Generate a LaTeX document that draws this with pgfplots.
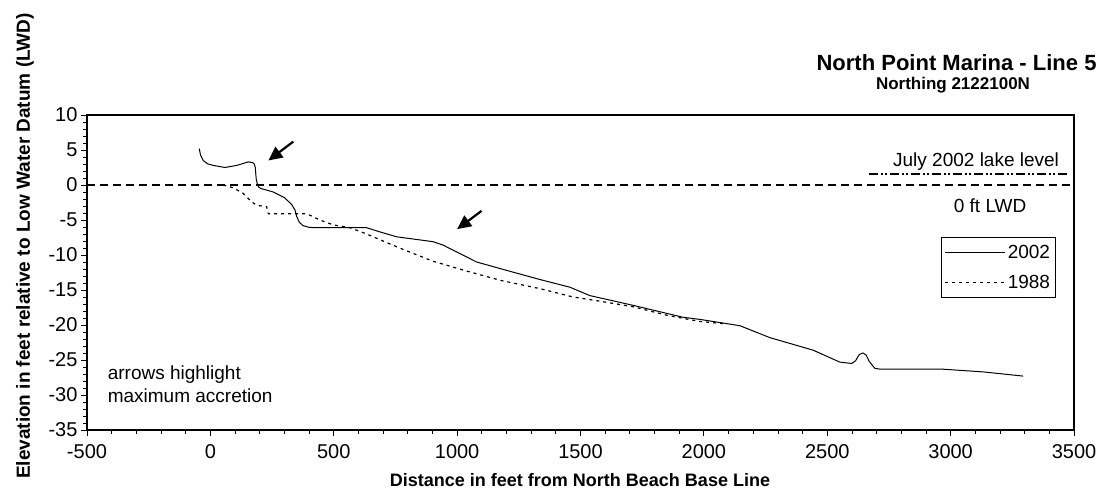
\documentclass[border=0pt]{standalone}
\usepackage{pgfplots}
\pgfplotsset{compat=1.18}
\usepackage{fontspec}
\setmainfont{Liberation Sans}
\usetikzlibrary{arrows.meta}
\begin{document}
\begin{tikzpicture}
\path[use as bounding box] (0bp,0bp) rectangle (1108bp,502bp);
\begin{axis}[
  at={(87bp,72bp)}, anchor=south west,
  scale only axis, width=987bp, height=315bp,
  xmin=-500, xmax=3500, ymin=-35, ymax=10,
  xtick={-500,0,...,3500}, ytick={-35,-30,...,10},
  minor x tick num=4, minor y tick num=4,
  tick align=outside, tick pos=left,
  major tick length=6bp, minor tick length=4bp,
  axis line style={line width=1.2bp},
  every tick/.style={black, line width=0.8bp},
  ticklabel style={font=\fontsize{20bp}{20bp}\selectfont},
  xticklabel style={yshift=-5bp},
  /pgf/number format/assume math mode=true,
  /pgf/number format/1000 sep={},
  legend style={at={(rel axis cs:0.981,0.613)}, anchor=north east, draw=black,
    font=\fontsize{19bp}{19bp}\selectfont, inner xsep=3bp, inner ysep=6bp,
    row sep=11bp, cells={anchor=east}},
  legend image code/.code={\draw[#1] (0bp,0bp) -- (60bp,0bp);},
  clip=false,
]
\addplot[black, line width=1bp] coordinates {
(-45,5.2) (-40,4.3) (-29,3.5) (-10,3.0) (12,2.8) (59,2.5) (107,2.8) (154,3.3)
(171,3.2) (178,3.0) (182,2.5) (184,1.6) (186,0.8) (190,0.2) (196,-0.3)
(205,-0.5) (255,-1.0) (300,-1.8) (330,-2.8) (343,-3.6) (350,-4.5) (360,-5.3)
(375,-5.8) (400,-6.05) (424,-6.1) (566,-6.1) (633,-6.1) (687,-6.7) (755,-7.4)
(903,-8.1) (944,-8.6) (1011,-9.8) (1079,-11.0) (1201,-12.2) (1335,-13.5)
(1457,-14.6) (1538,-15.8) (1714,-17.2) (1916,-18.9) (1984,-19.2) (2146,-20.1)
(2267,-21.8) (2443,-23.6) (2551,-25.3) (2599,-25.5) (2615,-25.1) (2630,-24.2)
(2645,-24.0) (2658,-24.3) (2670,-25.2) (2693,-26.2) (2714,-26.3) (2963,-26.3)
(3132,-26.7) (3294,-27.3)
};
\addlegendentry{2002}
\addplot[black, line width=1.2bp, dash pattern=on 3bp off 4bp] coordinates {
(52,0) (93,-0.4) (133,-1.2) (167,-2.4) (188,-2.9) (228,-3.1) (235,-4.1)
(390,-4.1) (444,-5.0) (498,-5.7) (566,-6.1) (633,-7.0) (726,-8.4) (795,-9.4)
(903,-10.9) (1039,-12.3) (1173,-13.6) (1335,-14.8) (1470,-16.0) (1579,-16.6)
(1714,-17.4) (1849,-18.6) (1984,-19.5) (2078,-19.8)
};
\addlegendentry{1988}
\addplot[black, line width=2bp, dash pattern=on 8bp off 5bp, forget plot] coordinates {(-500,0) (3500,0)};
\addplot[black, line width=2bp, dash pattern=on 9bp off 3bp on 2bp off 2bp on 2bp off 3bp, forget plot] coordinates {(2670,1.6) (3470,1.6)};
\draw[-{Triangle[length=14bp,width=13bp]}, line width=2.2bp] (axis cs:336,6.2) -- (axis cs:235,3.5);
\draw[-{Triangle[length=14bp,width=13bp]}, line width=2.2bp] (axis cs:1099,-3.7) -- (axis cs:1000,-6.3);
\node[anchor=base east, font=\fontsize{19bp}{19bp}\selectfont, inner sep=0pt] at (axis cs:3440,2.7) {July 2002 lake level};
\node[font=\fontsize{19bp}{19bp}\selectfont] at (axis cs:3160,-3.0) {0 ft LWD};
\node[anchor=west, align=left, font=\fontsize{19bp}{23bp}\selectfont] at (axis cs:-430,-28.4) {arrows highlight\\maximum accretion};
\end{axis}
\node[rotate=90, font=\fontsize{19bp}{19bp}\selectfont\bfseries] at (25bp,256bp) {Elevation in feet relative to Low Water Datum (LWD)};
\node[font=\fontsize{18bp}{18bp}\selectfont\bfseries] at (580bp,22bp) {Distance in feet from North Beach Base Line};
\node[anchor=east, font=\fontsize{22bp}{22bp}\selectfont\bfseries] at (1100bp,439bp) {North Point Marina - Line 5};
\node[font=\fontsize{17bp}{17bp}\selectfont\bfseries] at (953bp,417bp) {Northing 2122100N};
\end{tikzpicture}
\end{document}
